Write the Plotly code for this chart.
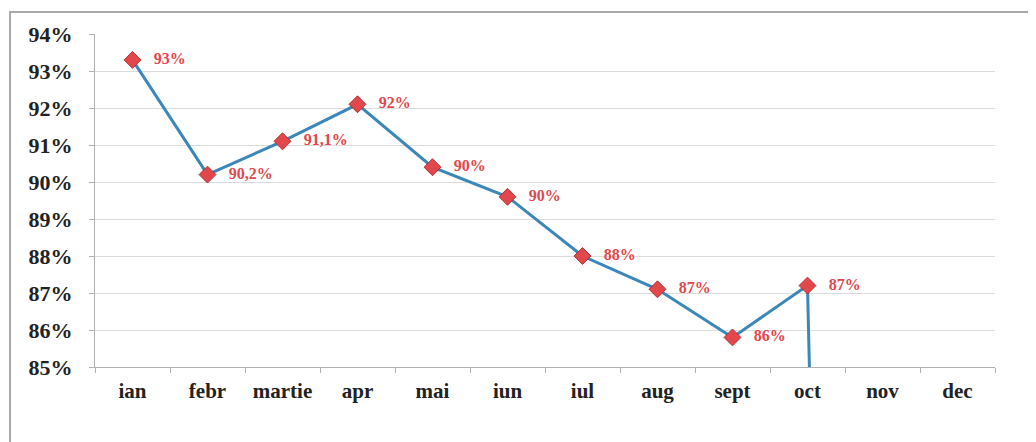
import plotly.graph_objects as go

# Date
luni = ['ian', 'febr', 'martie', 'apr', 'mai', 'iun', 'iul', 'aug', 'sept', 'oct', 'nov', 'dec']
valori = [93.3, 90.2, 91.1, 92.1, 90.4, 89.6, 88.0, 87.1, 85.8, 87.2, 0, 0]
etichete = ['93%', '90,2%', '91,1%', '92%', '90%', '90%', '88%', '87%', '86%', '87%', '', '']
y_ticks = [85, 86, 87, 88, 89, 90, 91, 92, 93, 94]

SERIF = 'Liberation Serif, Times New Roman, serif'
ROSU = '#e2474c'
ALBASTRU = '#3c87b9'

fig = go.Figure()

fig.add_trace(go.Scatter(
    x=luni, y=valori,
    mode='lines+markers+text',
    line=dict(color=ALBASTRU, width=3),
    marker=dict(symbol='diamond', size=13, color=ROSU,
                line=dict(color='#b03038', width=1)),
    text=etichete,
    texttemplate='   %{text}',
    textposition='middle right',
    textfont=dict(family=SERIF, size=16, color=ROSU, weight='bold'),
    cliponaxis=True,
    showlegend=False,
))

# Cadru gri in jurul graficului
fig.add_shape(type='rect', xref='paper', yref='paper',
              x0=-0.0944, x1=1.0389, y0=-0.35, y1=1.066,
              line=dict(color='#a8a8a8', width=2), layer='below')
fig.add_shape(type='line', xref='paper', yref='paper',
              x0=-0.11, x1=1.06, y0=1.093, y1=1.093,
              line=dict(color='#a8a8a8', width=2))

# pagina are o margine de 8px, de aceea marginile sunt deplasate
fig.update_layout(
    width=1036, height=442,
    margin=dict(l=87, r=49, t=26, b=83),
    paper_bgcolor='white',
    plot_bgcolor='white',
    font=dict(family=SERIF, color='#222222'),
    xaxis=dict(
        type='category',
        tickson='boundaries',
        ticks='outside', ticklen=5, tickcolor='#b0b0b0',
        ticklabelstandoff=5,
        showline=True, linecolor='#b0b0b0', linewidth=1,
        showgrid=False,
        tickfont=dict(family=SERIF, size=21, color='#222222', weight='bold'),
        range=[-0.5, 11.5],
    ),
    yaxis=dict(
        range=[85, 94],
        tickvals=y_ticks,
        ticktext=[f'{v}%' for v in y_ticks],
        ticks='outside', ticklen=5, tickcolor='#b0b0b0',
        ticklabelstandoff=12,
        showline=True, linecolor='#b0b0b0', linewidth=1,
        showgrid=True, gridcolor='#dcdcdc', gridwidth=1,
        zeroline=False,
        tickfont=dict(family=SERIF, size=22, color='#222222', weight='bold'),
    ),
)

fig.write_html('out.html')
